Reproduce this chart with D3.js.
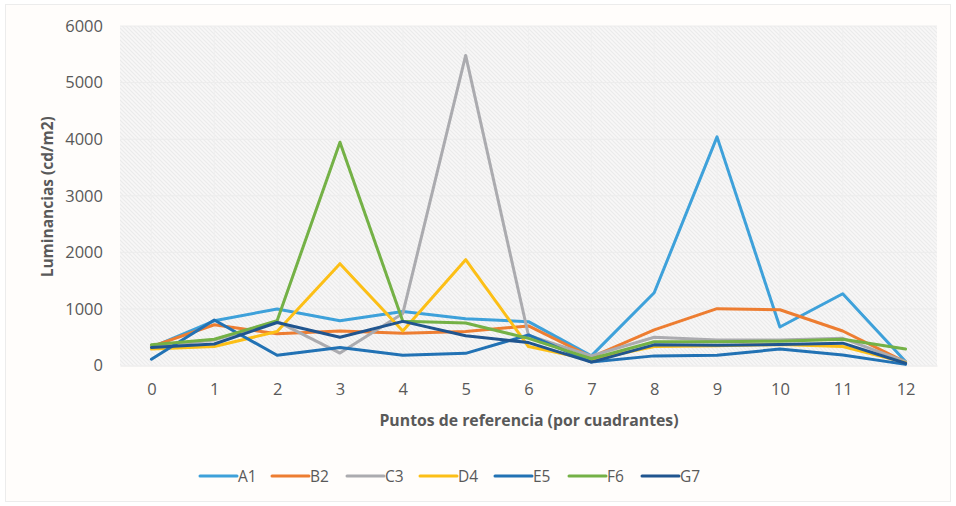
<!DOCTYPE html>
<html>
<head>
<meta charset="utf-8">
<script src="https://cdn.jsdelivr.net/npm/d3@7"></script>
<style>
  html, body { margin: 0; padding: 0; background: #ffffff; }
  svg { display: block; }
  text { font-family: "Open Sans", Lato, "Noto Sans", sans-serif; fill: #595959; }
</style>
</head>
<body>
<svg id="chart" width="956" height="506"></svg>
<script>
// Reference points along the x axis
const categories = ["0","1","2","3","4","5","6","7","8","9","10","11","12"];

// Luminance readings (cd/m2) for each series
const A1 = [320, 790, 1000, 790, 955, 825, 775, 170, 1285, 4040, 680, 1268, 70];
const B2 = [335, 720, 560, 610, 570, 600, 700, 150, 630, 1005, 985, 610, 60];
const C3 = [330, 450, 780, 220, 920, 5480, 530, 170, 500, 450, 450, 480, 70];
const D4 = [290, 335, 600, 1800, 610, 1870, 335, 100, 335, 350, 370, 335, 50];
const E5 = [110, 805, 180, 320, 180, 215, 540, 60, 170, 180, 290, 185, 20];
const F6 = [365, 465, 790, 3945, 780, 750, 480, 120, 420, 420, 430, 465, 290];
const G7 = [320, 380, 760, 500, 780, 525, 405, 60, 365, 360, 370, 395, 40];

const seriesNames = ["A1","B2","C3","D4","E5","F6","G7"];
const seriesValues = [A1, B2, C3, D4, E5, F6, G7];
const seriesColors = ["#3ea1da", "#ed7d31", "#ababaf", "#fcbf16", "#2272b4", "#74b146", "#20558f"];

const yTicks = [0, 1000, 2000, 3000, 4000, 5000, 6000];

const yTitle = "Luminancias (cd/m2)";
const xTitle = "Puntos de referencia (por cuadrantes)";

const svg = d3.select("#chart");
const W = 956, H = 506;
const plot = { left: 120, top: 26, right: 937, bottom: 365.5 };

// Outer chart background and border
svg.append("rect").attr("x", 0).attr("y", 0).attr("width", W).attr("height", H).attr("fill", "#ffffff");
svg.append("rect").attr("x", 5.5).attr("y", 4.5).attr("width", W - 11).attr("height", H - 9)
  .attr("fill", "#fffdfb").attr("stroke", "#ececec").attr("stroke-width", 1);

// Diagonal hatch fill of the plot area
const defs = svg.append("defs");
const pat = defs.append("pattern").attr("id", "hatch").attr("patternUnits", "userSpaceOnUse")
  .attr("width", 4).attr("height", 4);
pat.append("rect").attr("width", 4).attr("height", 4).attr("fill", "#f8f7f7");
pat.append("path").attr("d", "M-1,-1 L5,5 M3,-1 L5,1 M-1,3 L1,5")
  .attr("stroke", "#ebebeb").attr("stroke-width", 1.2);

const x = d3.scalePoint().domain(categories).range([plot.left, plot.right]).padding(0.5);
const y = d3.scaleLinear().domain([0, 6000]).range([plot.bottom, plot.top]);

svg.append("rect").attr("x", plot.left).attr("y", plot.top)
  .attr("width", plot.right - plot.left).attr("height", plot.bottom - plot.top)
  .attr("fill", "url(#hatch)");

// Faint gridlines
const grid = svg.append("g");
grid.selectAll("line.h").data(yTicks.slice(1)).join("line")
  .attr("x1", plot.left).attr("x2", plot.right)
  .attr("y1", d => y(d)).attr("y2", d => y(d))
  .attr("stroke", "#ececec").attr("stroke-width", 1);
grid.selectAll("line.v").data(categories).join("line")
  .attr("x1", d => x(d)).attr("x2", d => x(d))
  .attr("y1", plot.top).attr("y2", plot.bottom)
  .attr("stroke", "#efefef").attr("stroke-width", 1);

// Y axis labels
const yAxis = d3.axisLeft(y).tickValues(yTicks).tickSize(0).tickPadding(17).tickFormat(d3.format("d"));
const gy = svg.append("g").attr("transform", `translate(${plot.left},0)`).call(yAxis);
gy.select(".domain").remove();
gy.selectAll("text").style("font-size", "16.5px").attr("fill", "#595959")
  .style("font-family", "'Open Sans', Lato, sans-serif");

// X axis labels
const xAxis = d3.axisBottom(x).tickSize(0).tickPadding(18);
const gx = svg.append("g").attr("transform", `translate(0,${plot.bottom})`).call(xAxis);
gx.select(".domain").attr("stroke", "#e6e6e6");
gx.selectAll("text").style("font-size", "16.5px").attr("fill", "#595959")
  .style("font-family", "'Open Sans', Lato, sans-serif");

// Axis titles
svg.append("text").attr("transform", `translate(47,${(plot.top + plot.bottom) / 2 + 1}) rotate(-90)`)
  .attr("text-anchor", "middle").attr("dominant-baseline", "central")
  .style("font-size", "15.5px").style("font-weight", "bold").text(yTitle);
svg.append("text").attr("x", 529).attr("y", 420)
  .attr("text-anchor", "middle").attr("dominant-baseline", "central")
  .style("font-size", "15.8px").style("font-weight", "bold").text(xTitle);

// Series lines
const line = d3.line().x((d, i) => x(categories[i])).y(d => y(d));
svg.append("g").selectAll("path").data(seriesValues).join("path")
  .attr("d", d => line(d))
  .attr("fill", "none")
  .attr("stroke", (d, i) => seriesColors[i])
  .attr("stroke-width", 3)
  .attr("stroke-linejoin", "round")
  .attr("stroke-linecap", "round");

// Legend
const legendX = [200, 272, 347, 420, 495, 569, 642];
const lg = svg.append("g");
seriesNames.forEach((name, i) => {
  const g = lg.append("g").attr("transform", `translate(${legendX[i]},476)`);
  g.append("line").attr("x1", 0).attr("x2", 37).attr("y1", 0).attr("y2", 0)
    .attr("stroke", seriesColors[i]).attr("stroke-width", 3).attr("stroke-linecap", "round");
  g.append("text").attr("x", 38).attr("y", 0).attr("dominant-baseline", "central")
    .style("font-size", "15.5px").text(name);
});
</script>
</body>
</html>
